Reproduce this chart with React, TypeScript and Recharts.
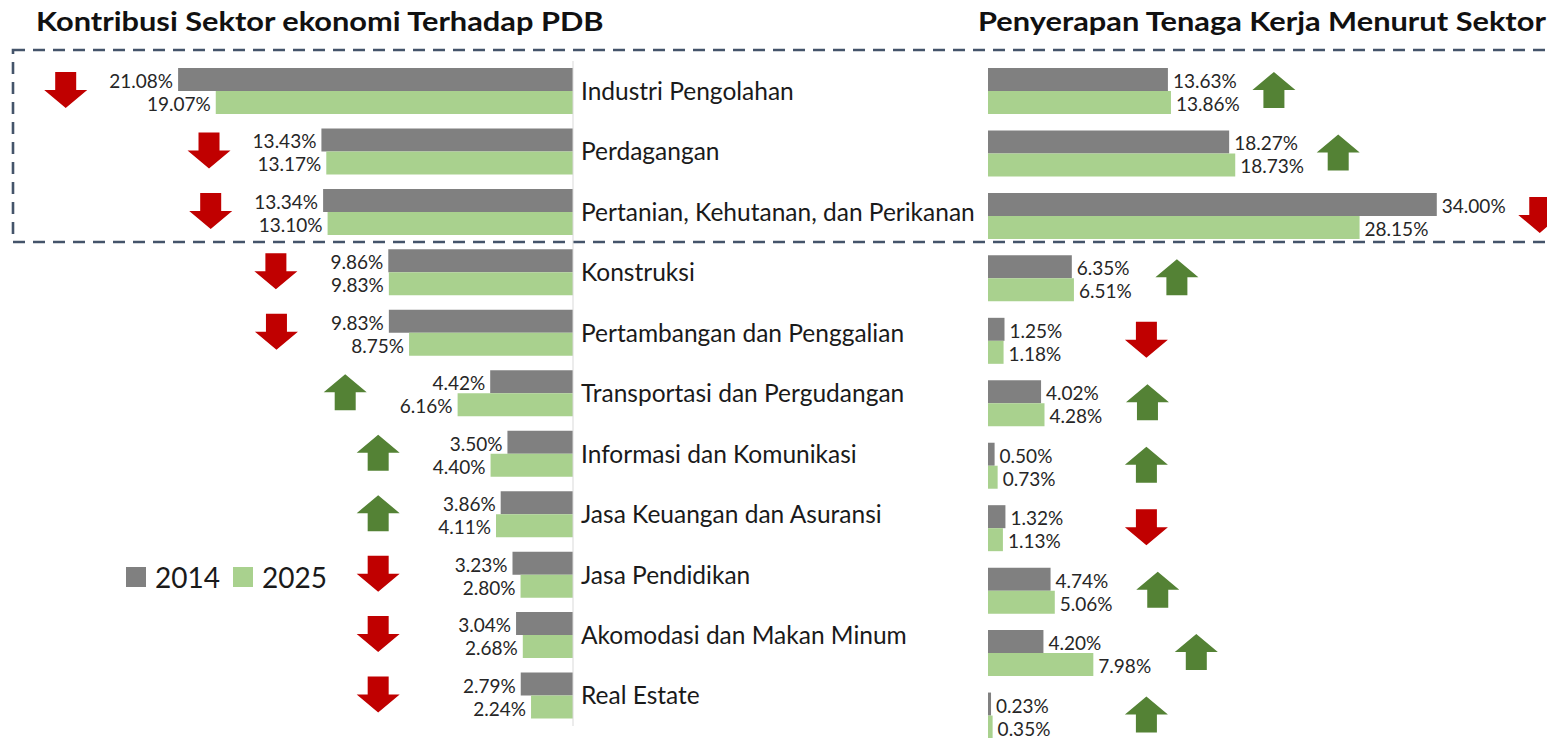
import { BarChart, Bar, XAxis, YAxis, LabelList, Legend } from 'recharts'

const sectors = [
  'Industri Pengolahan',
  'Perdagangan',
  'Pertanian, Kehutanan, dan Perikanan',
  'Konstruksi',
  'Pertambangan dan Penggalian',
  'Transportasi dan Pergudangan',
  'Informasi dan Komunikasi',
  'Jasa Keuangan dan Asuransi',
  'Jasa Pendidikan',
  'Akomodasi dan Makan Minum',
  'Real Estate',
]

// kontribusi terhadap PDB (%)
const pdb2014 = [21.08, 13.43, 13.34, 9.86, 9.83, 4.42, 3.5, 3.86, 3.23, 3.04, 2.79]
const pdb2025 = [19.07, 13.17, 13.1, 9.83, 8.75, 6.16, 4.4, 4.11, 2.8, 2.68, 2.24]

// penyerapan tenaga kerja (%)
const tk2014 = [13.63, 18.27, 34.0, 6.35, 1.25, 4.02, 0.5, 1.32, 4.74, 4.2, 0.23]
const tk2025 = [13.86, 18.73, 28.15, 6.51, 1.18, 4.28, 0.73, 1.13, 5.06, 7.98, 0.35]

const years = ['2014', '2025']

const GRAY = '#808080'
const GREEN = '#a9d18e'
const UP = '#548235'
const DOWN = '#c00000'
const FONT = 'Lato, "Open Sans", sans-serif'

const leftData = sectors.map((s, i) => ({ sector: s, a: pdb2014[i], b: pdb2025[i] }))
const rightData = sectors.map((s, i) => ({ sector: s, a: tk2014[i], b: tk2025[i] }))

function Arrow({ cx, cy, up }: { cx: number; cy: number; up: boolean }) {
  const w = 43, h = 36, head = 18, shaft = 21
  const top = cy - h / 2
  const bot = cy + h / 2
  const d = up
    ? `M${cx},${top} L${cx + w / 2},${top + head} L${cx + shaft / 2},${top + head} L${cx + shaft / 2},${bot} L${cx - shaft / 2},${bot} L${cx - shaft / 2},${top + head} L${cx - w / 2},${top + head} Z`
    : `M${cx},${bot} L${cx + w / 2},${bot - head} L${cx + shaft / 2},${bot - head} L${cx + shaft / 2},${top} L${cx - shaft / 2},${top} L${cx - shaft / 2},${bot - head} L${cx - w / 2},${bot - head} Z`
  return <path d={d} fill={up ? UP : DOWN} />
}

// value label (and the up/down arrow on the 2025 bar)
const makeLabel =
  (side: 'left' | 'right', first: number[], second: number[], key: 'a' | 'b', gap: number, minAt: number) =>
  (props: any) => {
    const vb = props.viewBox ?? props
    const i = Number(props.value)
    const vals = key === 'a' ? first : second
    const v = vals[i]
    const x0 = Math.min(vb.x, vb.x + vb.width)
    const x1 = Math.max(vb.x, vb.x + vb.width)
    const y0 = Math.min(vb.y, vb.y + vb.height)
    const y1 = Math.max(vb.y, vb.y + vb.height)
    const tx = side === 'left' ? x0 - 5 : x1 + 5
    let arrow = null
    if (key === 'b') {
      const ppu = (x1 - x0) / v
      const at = Math.max(Math.max(first[i], second[i]) + gap, minAt)
      const cx = side === 'left' ? x1 - at * ppu : x0 + at * ppu
      arrow = <Arrow cx={cx} cy={y0 - 1} up={second[i] > first[i]} />
    }
    return (
      <g>
        <text
          x={tx}
          y={(y0 + y1) / 2 + 1}
          textAnchor={side === 'left' ? 'end' : 'start'}
          dominantBaseline="central"
          fontSize={19}
          fontFamily={FONT}
          fill="#262626"
        >
          {v.toFixed(2)}%
        </text>
        {arrow}
      </g>
    )
  }

const renderLegend = (props: any) => (
  <div style={{ display: 'flex', alignItems: 'center', fontSize: 28, fontFamily: FONT, color: '#1a1a1a' }}>
    {(props.payload || []).map((p: any, i: number) => (
      <span key={i} style={{ display: 'flex', alignItems: 'center', marginRight: 13 }}>
        <span style={{ width: 20, height: 20, background: p.color, marginRight: 9, display: 'inline-block' }} />
        {p.value}
      </span>
    ))}
  </div>
)

const titleStyle: React.CSSProperties = {
  position: 'absolute',
  top: 7,
  fontSize: 27,
  lineHeight: '27px',
  fontWeight: 700,
  fontFamily: FONT,
  color: '#111',
  whiteSpace: 'nowrap',
  transform: 'scaleX(1.14)',
  transformOrigin: 'left center',
}

export default function App() {
  return (
    <div
      style={{
        position: 'absolute',
        left: 0,
        top: 0,
        width: 1547,
        height: 738,
        overflow: 'hidden',
        background: '#fff',
        fontFamily: FONT,
      }}
    >
      <svg width={1547} height={738} style={{ position: 'absolute', left: 0, top: 0, pointerEvents: 'none' }}>
        <rect x={13} y={50} width={1600} height={192} fill="none" stroke="#44546a" strokeWidth={2.6} strokeDasharray="12 8" />
      </svg>

      <div style={{ ...titleStyle, left: 36 }}>Kontribusi Sektor ekonomi Terhadap PDB</div>
      <div style={{ ...titleStyle, left: 978 }}>Penyerapan Tenaga Kerja Menurut Sektor</div>

      <div style={{ position: 'absolute', left: 11, top: 61 }}>
        <BarChart
          layout="vertical"
          data={leftData}
          width={972}
          height={665}
          margin={{ top: 0, right: 0, bottom: 0, left: 0 }}
          barGap={0}
          barSize={23}
        >
          <XAxis type="number" domain={[0, 30]} reversed hide />
          <YAxis
            type="category"
            dataKey="sector"
            orientation="right"
            width={410}
            interval={0}
            axisLine={{ stroke: '#d9d9d9' }}
            tickLine={false}
            tick={{ fontSize: 24.5, fill: '#1a1a1a', fontFamily: FONT }}
          />
          <Bar dataKey="a" name={years[0]} fill={GRAY} isAnimationActive={false}>
            <LabelList valueAccessor={(_: any, i: number) => i} content={makeLabel('left', pdb2014, pdb2025, 'a', 6, 10.4)} />
          </Bar>
          <Bar dataKey="b" name={years[1]} fill={GREEN} isAnimationActive={false}>
            <LabelList valueAccessor={(_: any, i: number) => i} content={makeLabel('left', pdb2014, pdb2025, 'b', 6, 10.4)} />
          </Bar>
          <Legend
            layout="horizontal"
            verticalAlign="middle"
            align="center"
            content={renderLegend}
            wrapperStyle={{ position: 'absolute', left: 115, top: 499, width: 'auto' }}
          />
        </BarChart>
      </div>

      <div style={{ position: 'absolute', left: 988, top: 60 }}>
        <BarChart
          layout="vertical"
          data={rightData}
          width={559}
          height={687}
          margin={{ top: 0, right: 31, bottom: 0, left: 0 }}
          barGap={0}
          barSize={23}
        >
          <XAxis type="number" domain={[0, 40]} hide />
          <YAxis type="category" dataKey="sector" hide />
          <Bar dataKey="a" fill={GRAY} isAnimationActive={false}>
            <LabelList valueAccessor={(_: any, i: number) => i} content={makeLabel('right', tk2014, tk2025, 'a', 7.8, 12)} />
          </Bar>
          <Bar dataKey="b" fill={GREEN} isAnimationActive={false}>
            <LabelList valueAccessor={(_: any, i: number) => i} content={makeLabel('right', tk2014, tk2025, 'b', 7.8, 12)} />
          </Bar>
        </BarChart>
      </div>
    </div>
  )
}
